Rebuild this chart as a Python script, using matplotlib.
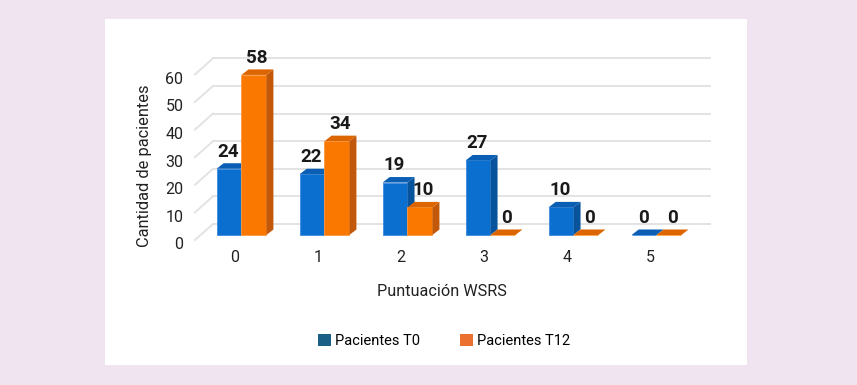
import matplotlib.pyplot as plt
from matplotlib.patches import Rectangle, Patch
import numpy as np

plt.rcParams['font.family'] = ['Roboto', 'DejaVu Sans']

# data
categories = ['0', '1', '2', '3', '4', '5']
t0 = [24, 22, 19, 27, 10, 0]
t12 = [58, 34, 10, 0, 0, 0]
series_names = ['Pacientes T0', 'Pacientes T12']
yticks = [0, 10, 20, 30, 40, 50, 60]

# colours (front, side, top)
blue = ('#0b6fcf', '#07549c', '#0a5fb4')
orange = ('#fb7800', '#c2590a', '#dd6500')
legend_cols = ['#1b5e86', '#ea7130']

fig = plt.figure(figsize=(8.57, 3.85), dpi=100)
fig.patch.set_facecolor('#f0e4f0')
fig.patches.append(Rectangle((105 / 857, 20 / 385), 642 / 857, 346 / 385,
                             transform=fig.transFigure, facecolor='white',
                             edgecolor='none', zorder=-1))

ax = fig.add_axes([190 / 857, 135 / 385, 530 / 857, 210 / 385])
ax.set_zorder(2)
ax.set_facecolor('none')
ax.set_xlim(-0.62, 5.765)
ax.set_ylim(-5.43, 70.65)
ax.axis('off')

# pseudo 3D grid: slanted floor lines + back wall lines
for v in yticks:
    ax.plot([-0.56, -0.343], [v - 1.8, v + 4.0], color='#e3e3e3', lw=1.4, zorder=1)
    ax.plot([-0.343, 5.645], [v + 4.0, v + 4.0], color='#e3e3e3', lw=1.4, zorder=1)
    ax.text(-0.70, v - 3.6, str(v), ha='right', va='center', fontsize=11.5,
            color='#222222')

x = np.arange(len(categories))
w = 0.30
dx, dy = 0.085, 2.0


def draw_bars(xs, vals, cols, edge, shift):
    ax.bar(xs, vals, width=w, align='edge', color=cols[0], edgecolor=edge,
           linewidth=0.6, zorder=3)
    for x0, v in zip(xs, vals):
        x1 = x0 + w
        ax.fill([x1, x1 + dx, x1 + dx, x1], [0, dy, v + dy, v], color=cols[1], zorder=3, lw=0)
        ax.fill([x0, x1, x1 + dx, x0 + dx], [v, v, v + dy, v + dy], color=cols[2], zorder=3, lw=0)
        ax.text(x0 + w / 2 + shift, v + 6.2, str(v), ha='center', va='center',
                fontsize=13.5, fontweight='bold', color='#1a1a1a', zorder=5)


draw_bars(x - w, t0, blue, '#3d8be0', -0.01)
draw_bars(x, t12, orange, '#ff9a40', 0.04)

for xi, lab in zip(x, categories):
    ax.text(xi - 0.08, -8.3, lab, ha='center', va='center', fontsize=11.5,
            color='#222222', clip_on=False)

fig.text(145 / 857, 1 - 166 / 385, 'Cantidad de pacientes', rotation=90,
         ha='center', va='center', fontsize=11.8, color='#222222')
fig.text(442 / 857, 1 - 291 / 385, 'Puntuación WSRS', ha='center', va='center',
         fontsize=11.7, color='#222222')

handles = [Patch(facecolor=legend_cols[0]), Patch(facecolor=legend_cols[1])]
fig.legend(handles, series_names, loc='center', bbox_to_anchor=(444 / 857, 1 - 341 / 385),
           ncol=2, frameon=False, fontsize=10.5, handlelength=0.9, handleheight=0.9,
           handletextpad=0.3, columnspacing=2.7)

fig.savefig('out.png', dpi=100, facecolor=fig.get_facecolor())
